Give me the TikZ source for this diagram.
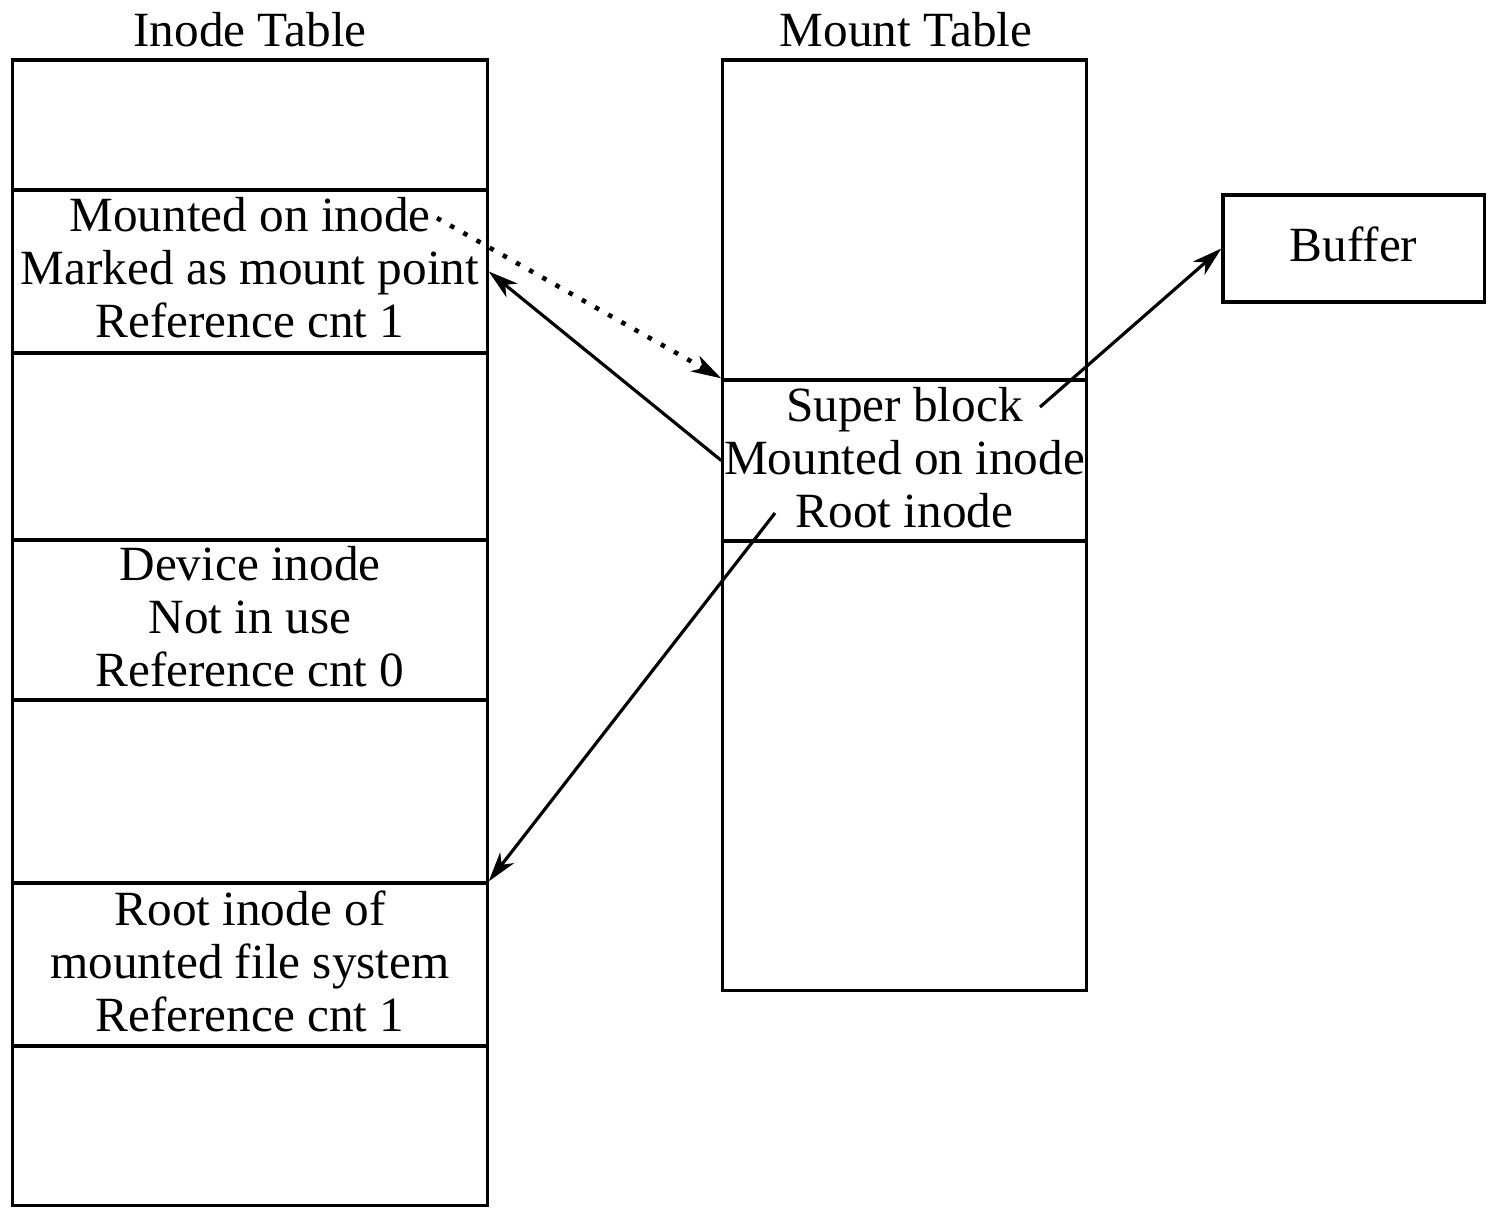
\documentclass[tikz,border=0pt]{standalone}
\usepackage{fontspec}
\setmainfont{Liberation Serif}
\usetikzlibrary{arrows.meta}
\begin{document}
\begin{tikzpicture}[x=0.01cm,y=-0.01cm,
  txt/.style={font=\fontsize{14}{15.1}\selectfont, align=center, inner sep=0pt},
  cell/.style={draw, line width=0.9pt, inner sep=0pt},
  link/.style={line width=0.9pt, -{Stealth[length=8.5pt,width=5pt,inset=2.5pt]}},
  dotlink/.style={line width=1.3pt, dash pattern=on 1.3pt off 3pt, -{Stealth[length=8.5pt,width=5pt,inset=2.5pt]}}]
\useasboundingbox (0,0) rectangle (1498,1220);

% titles
\node[txt] (ititle) at (250,30) {Inode Table};
\node[txt] (mtitle) at (906,30) {Mount Table};

% inode table
\node[cell, minimum width=4.74cm, minimum height=1.30cm] (i1) at (250,125) {};
\node[cell, minimum width=4.74cm, minimum height=1.63cm] (i2) at (250,271.5) {};
\node[cell, minimum width=4.74cm, minimum height=1.87cm] (i3) at (250,446.5) {};
\node[cell, minimum width=4.74cm, minimum height=1.60cm] (i4) at (250,620) {};
\node[cell, minimum width=4.74cm, minimum height=1.83cm] (i5) at (250,791.5) {};
\node[cell, minimum width=4.74cm, minimum height=1.63cm] (i6) at (250,964.5) {};
\node[cell, minimum width=4.74cm, minimum height=1.59cm] (i7) at (250,1125.5) {};
\node[txt] (i2t) at ([yshift=0.035cm]i2.center) {Mounted on inode\\Marked as mount point\\Reference cnt 1};
\node[txt] (i4t) at ([yshift=0.035cm]i4.center) {Device inode\\Not in use\\Reference cnt 0};
\node[txt] (i6t) at ([yshift=0.03cm]i6.center) {Root inode of\\mounted file system\\Reference cnt 1};

% mount table
\node[cell, minimum width=3.63cm, minimum height=3.20cm] (m1) at (904.5,220) {};
\node[cell, minimum width=3.63cm, minimum height=1.61cm] (m2) at (904.5,460.5) {};
\node[cell, minimum width=3.63cm, minimum height=4.49cm] (m3) at (904.5,765.5) {};
\node[txt] (m2t) at ([yshift=0.03cm]m2.center) {Super block\\Mounted on inode\\Root inode};

% buffer
\node[cell, minimum width=2.61cm, minimum height=1.07cm] (buf) at (1353.5,248.5) {};
\node[txt] (buft) at ([yshift=0.04cm]buf.center) {Buffer};

% connectors
\coordinate (dotS) at (437,218);
\coordinate (sbS) at (1040,407);
\coordinate (rootS) at (775,513);
\draw[dotlink] (dotS) -- (m2.north west);
\draw[link] (m2.west) -- (i2.east);
\draw[link] (sbS) -- (buf.west);
\draw[link] (rootS) -- (i6.north east);
\end{tikzpicture}
\end{document}
